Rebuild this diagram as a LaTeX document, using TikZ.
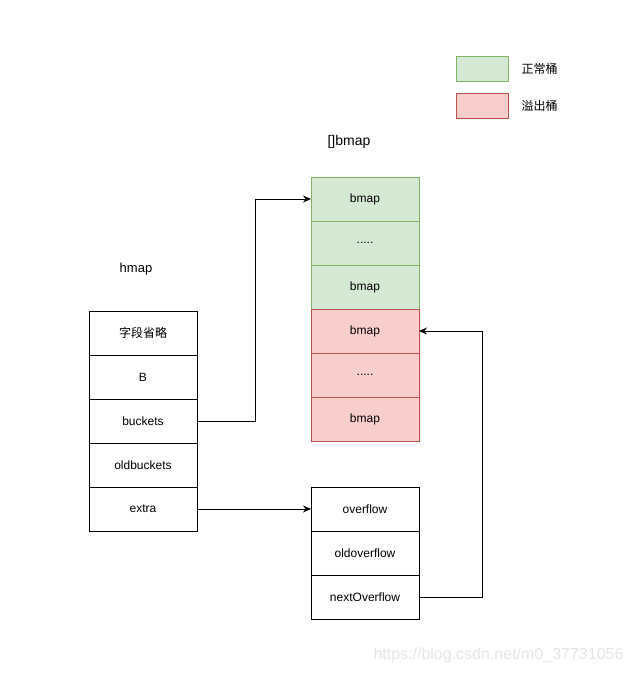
\documentclass[tikz,border=0pt]{standalone}
\usepackage{fontspec}
\setmainfont{Liberation Sans}
\newfontfamily\cjk{Noto Sans CJK SC}
\usetikzlibrary{arrows.meta,positioning}
\definecolor{normalfill}{HTML}{D5E8D4}
\definecolor{normalline}{HTML}{82B366}
\definecolor{overfill}{HTML}{F8CECC}
\definecolor{overline}{HTML}{B85450}

\begin{document}
\begin{tikzpicture}[x=1pt, y=-1pt, node distance=0pt,
  cell/.style={draw, line width=1pt, minimum width=108pt, minimum height=44pt,
    outer sep=0pt, inner sep=0pt, font=\fontsize{12}{14}\selectfont},
  normal/.style={cell, draw=normalline, fill=normalfill},
  over/.style={cell, draw=overline, fill=overfill},
  link/.style={line width=1pt, -{Stealth[length=8pt,width=7pt]}}]
\useasboundingbox (0,0) rectangle (634,673);

% legend
\node[normal, minimum width=52pt, minimum height=25pt] (keyok) at (482,68.5) {};
\node[right=10pt of keyok, font=\fontsize{12}{14}\selectfont\cjk] {正常桶};
\node[over, minimum width=52pt, minimum height=25pt] (keyover) at (482,105.5) {};
\node[right=10pt of keyover, font=\fontsize{12}{14}\selectfont\cjk] {溢出桶};

% hmap
\node[font=\fontsize{13}{15}\selectfont] (hmaplabel) at (136,269) {hmap};
\node[cell, font=\fontsize{12}{14}\selectfont\cjk] (fields) at (143,333) {字段省略};
\node[cell, below=of fields] (b) {B};
\node[cell, below=of b] (buckets) {buckets};
\node[cell, below=of buckets] (oldbuckets) {oldbuckets};
\node[cell, below=of oldbuckets] (extra) {extra};

% []bmap
\node[font=\fontsize{14}{16}\selectfont] (bmaplabel) at (349,142) {[]bmap};
\node[normal] (bm1) at (365,199) {bmap};
\node[normal, below=of bm1] (bm2) {.....};
\node[normal, below=of bm2] (bm3) {bmap};
\node[over, below=of bm3] (bm4) {bmap};
\node[over, below=of bm4] (bm5) {.....};
\node[over, below=of bm5] (bm6) {bmap};

% mapextra
\node[cell] (overflow) at (365,509) {overflow};
\node[cell, below=of overflow] (oldoverflow) {oldoverflow};
\node[cell, below=of oldoverflow] (nextoverflow) {nextOverflow};

\draw[link] (buckets.east) -- ++(58,0) |- (bm1.west);
\draw[link] (extra.east) -- (overflow.west);
\draw[link] (nextoverflow.east) -- ++(63,0) |- (bm4.east);

\node[text=black!10, font=\fontsize{16}{18}\selectfont, anchor=east] (mark) at (627,655) {https://blog.csdn.net/m0\_37731056};
\end{tikzpicture}
\end{document}
